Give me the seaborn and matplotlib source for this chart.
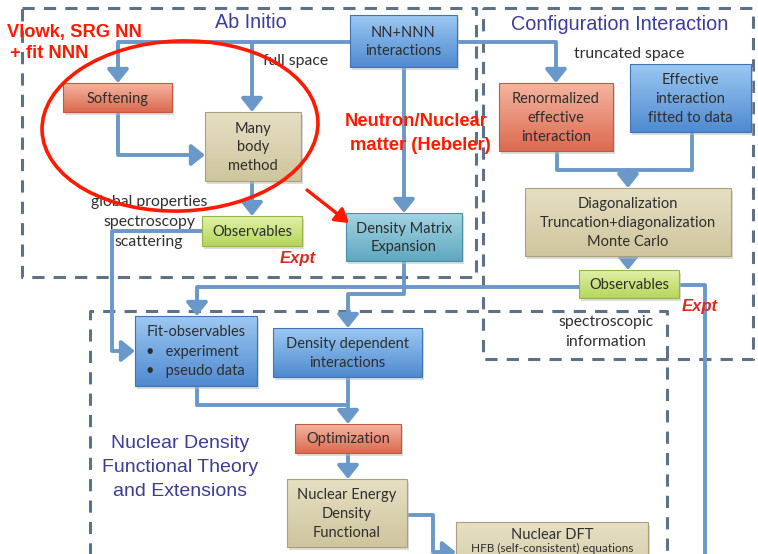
#!/usr/bin/env python3
"""
Flowchart: Ab Initio / Configuration Interaction / Nuclear DFT
"""

import numpy as np
import matplotlib
matplotlib.use('Agg')
import matplotlib.pyplot as plt
from matplotlib.patches import Rectangle, Ellipse, FancyArrowPatch
import seaborn as sns

# ---- text content ----
section_titles = ['Ab Initio', 'Configuration Interaction']
dft_title = ['Nuclear Density', 'Functional Theory', 'and Extensions']
box_labels = [
    'NN+NNN\ninteractions',
    'Softening',
    'Many\nbody\nmethod',
    'Observables',
    'Density Matrix\nExpansion',
    'Renormalized\neffective\ninteraction',
    'Effective\ninteraction\nfitted to data',
    'Diagonalization\nTruncation+diagonalization\nMonte Carlo',
    'Observables',
    'Density dependent\ninteractions',
    'Optimization',
    'Nuclear Energy\nDensity\nFunctional',
]
fit_obs_lines = ['Fit-observables', '\u2022   experiment', '\u2022   pseudo data']
ndft_lines = ['Nuclear DFT', 'HFB (self-consistent) equations']
obs_notes = ['global properties', 'spectroscopy', 'scattering']
ci_notes = ['spectroscopic', 'information']
space_notes = ['full space', 'truncated space']
red_notes = ['Vlowk, SRG NN', '+ fit NNN', 'Neutron/Nuclear', 'matter (Hebeler)']
expt_label = 'Expt'

# ---- layout (pixel coords, y downward) ----
# (x0, y0, x1, y1, colour scheme)
box_geom = [
    (350, 15, 457, 67, 'blue'),
    (63, 83, 172, 112, 'red'),
    (205, 112, 301, 181, 'tan'),
    (202, 216, 302, 246, 'green'),
    (346, 213, 462, 261, 'teal'),
    (499, 83, 613, 151, 'red'),
    (630, 64, 751, 132, 'blue'),
    (525, 188, 731, 256, 'tan'),
    (579, 270, 679, 298, 'green'),
    (273, 328, 422, 377, 'blue'),
    (295, 424, 401, 453, 'red'),
    (287, 479, 407, 547, 'tan'),
]
fit_geom = (135, 316, 257, 386, 'blue')
ndft_geom = (456, 522, 648, 600, 'tan')

schemes = {
    'blue': ('#9cc8f2', '#4f8ad0', '#3f74b4'),
    'red': ('#f5b5a0', '#dc6a50', '#c25a42'),
    'tan': ('#e6dfc3', '#cfc59d', '#aaa07a'),
    'green': ('#e2f0a8', '#b5d65c', '#94b548'),
    'teal': ('#a4d4e2', '#5fa8c0', '#4a8ea6'),
}

W, H = 758, 554
LINE = '#6a98c8'
DASH = '#5f7185'
HEAD = '#3c3c9c'
TXT = '#2e2e2e'
RED = '#ff1a00'
BOXFS = 10.5
NOTEFS = 11.3

sns.set_theme(style='white')
plt.rcParams['font.family'] = ['Lato', 'DejaVu Sans']

fig = plt.figure(figsize=(W / 100, H / 100), dpi=100)
ax = fig.add_axes([0, 0, 1, 1])
ax.set_xlim(0, W)
ax.set_ylim(H, 0)
ax.axis('off')


def draw_box(x0, y0, x1, y1, scheme):
    top, bot, edge = schemes[scheme]
    # shadow
    ax.add_patch(Rectangle((x0 + 2, y0 + 3), x1 - x0, y1 - y0,
                           facecolor='#bbbbbb', edgecolor='none', alpha=0.5, zorder=3))
    c0 = np.array(matplotlib.colors.to_rgb(top))
    c1 = np.array(matplotlib.colors.to_rgb(bot))
    t = np.linspace(0, 1, 64)[:, None]
    grad = (c0 * (1 - t) + c1 * t)[:, None, :]
    im = ax.imshow(grad, extent=(x0, x1, y1, y0), aspect='auto', zorder=4,
                   interpolation='bilinear')
    rect = Rectangle((x0, y0), x1 - x0, y1 - y0, facecolor='none',
                     edgecolor=edge, lw=0.8, zorder=5)
    ax.add_patch(rect)
    im.set_clip_path(rect)


def line(xs, ys, arrow=False):
    if arrow:
        ax.plot(xs[:-1], ys[:-1], color=LINE, lw=2.8, solid_capstyle='butt', zorder=2)
        ax.add_patch(FancyArrowPatch((xs[-2], ys[-2]), (xs[-1], ys[-1]),
                                     arrowstyle='-|>,head_length=5,head_width=4',
                                     color=LINE, lw=2.8, mutation_scale=1.6,
                                     shrinkA=0, shrinkB=0, zorder=2))
    else:
        ax.plot(xs, ys, color=LINE, lw=2.8, solid_capstyle='butt', zorder=2)


def dashed(xs, ys):
    ax.plot(xs, ys, color=DASH, lw=2.2, ls=(0, (4, 3)), zorder=1)


# dashed section frames
dashed([22, 476, 476, 22, 22], [8, 8, 277, 277, 8])
dashed([483, 753, 753, 483, 483], [8, 8, 359, 359, 8])
dashed([90, 90, 667, 667], [560, 311, 311, 560])

# connectors
line([350, 118, 118], [42, 42, 83], arrow=True)
line([252, 252], [42, 112], arrow=True)
line([457, 556, 556], [42, 42, 83], arrow=True)
line([404, 404], [67, 213], arrow=True)
line([118, 118, 205], [112, 155, 155], arrow=True)
line([252, 252], [181, 216], arrow=True)
line([557, 557, 628], [151, 170, 170])
line([692, 692, 628], [132, 170, 170])
line([628, 628], [170, 188], arrow=True)
line([628, 628], [256, 270], arrow=True)
line([579, 197, 197], [287, 287, 316], arrow=True)
line([679, 705, 705], [285, 285, 560])
line([404, 404, 348, 348], [261, 294, 294, 328], arrow=True)
line([202, 112, 112, 135], [231, 231, 351, 351], arrow=True)
line([197, 197, 348], [386, 405, 405])
line([348, 348], [377, 424], arrow=True)
line([348, 348], [453, 479], arrow=True)
line([407, 433, 433, 456], [515, 515, 552, 552], arrow=True)

# boxes
for (x0, y0, x1, y1, sc), lab in zip(box_geom, box_labels):
    draw_box(x0, y0, x1, y1, sc)
    ax.text((x0 + x1) / 2, (y0 + y1) / 2 + 1, lab, ha='center', va='center',
            fontsize=BOXFS, color=TXT, linespacing=1.42, zorder=6)

x0, y0, x1, y1, sc = fit_geom
draw_box(x0, y0, x1, y1, sc)
ax.text(196, 332, fit_obs_lines[0], ha='center', va='center', fontsize=BOXFS, color=TXT, zorder=6)
for i, s in enumerate(fit_obs_lines[1:]):
    ax.text(146, 352 + 19 * i, s, ha='left', va='center', fontsize=BOXFS, color=TXT, zorder=6)

x0, y0, x1, y1, sc = ndft_geom
draw_box(x0, y0, x1, y1, sc)
ax.text(552, 535, ndft_lines[0], ha='center', va='center', fontsize=BOXFS, color=TXT, zorder=6)
ax.text(552, 548, ndft_lines[1], ha='center', va='center', fontsize=8.5, color=TXT, zorder=6)

# headings
ax.text(251, 22, section_titles[0], ha='center', va='center', fontsize=14.2,
        color=HEAD, family=['Liberation Sans'], zorder=6)
ax.text(620, 25, section_titles[1], ha='center', va='center', fontsize=14.3,
        color=HEAD, family=['Liberation Sans'], zorder=6)
for i, s in enumerate(dft_title):
    ax.text(180, 443 + 24.5 * i, s, ha='center', va='center', fontsize=14,
            color=HEAD, family=['Liberation Sans'], zorder=6)

# small notes
ax.text(296, 61, space_notes[0], ha='center', va='center', fontsize=NOTEFS, color=TXT, zorder=6)
ax.text(629, 54, space_notes[1], ha='center', va='center', fontsize=NOTEFS, color=TXT, zorder=6)
for i, s in enumerate(obs_notes):
    ax.text(149, 202 + 20 * i, s, ha='center', va='center', fontsize=NOTEFS, color=TXT, zorder=6)
for i, s in enumerate(ci_notes):
    ax.text(606, 322 + 20 * i, s, ha='center', va='center', fontsize=NOTEFS, color=TXT, zorder=6)
for (x, y) in [(298, 258), (700, 307)]:
    ax.text(x, y, expt_label, ha='center', va='center', fontsize=12, color='#d92b1f',
            fontweight='bold', style='italic', family=['Liberation Sans'], zorder=6)

# red annotations
red_pos = [(7, 33), (10, 53), (345, 122), (350, 145)]
for (x, y), s in zip(red_pos, red_notes):
    ax.text(x, y, s, ha='left', va='center', fontsize=13.2, color=RED,
            fontweight='bold', family=['Liberation Sans'], zorder=8)

ax.add_patch(Ellipse((180, 126), 276, 170, angle=-2, facecolor='none',
                     edgecolor=RED, lw=2.6, zorder=7))
ax.add_patch(FancyArrowPatch((307, 190), (349, 223),
                             arrowstyle='-|>,head_length=8,head_width=5',
                             color=RED, lw=2.4, shrinkA=0, shrinkB=0, zorder=7))

plt.savefig('out.png', dpi=100, facecolor='white')
plt.close()
